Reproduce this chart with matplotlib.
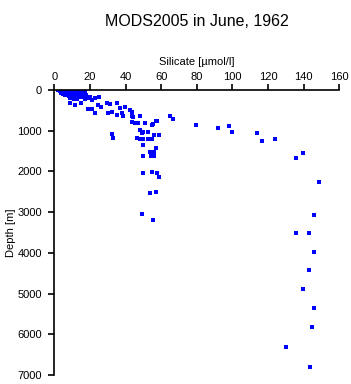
import matplotlib
matplotlib.use("Agg")
import matplotlib.pyplot as plt

plt.rcParams['font.family'] = ['Liberation Sans', 'DejaVu Sans']

# Silicate [umol/l] and depth [m]
silicate = [
    # dense near-surface cluster
    2, 3, 4, 5, 6, 7, 8, 9, 10, 11, 12, 13, 14, 15, 16, 17,
    3, 4, 5, 6, 7, 8, 9, 10, 11, 12, 13, 14, 15, 16,
    4, 6, 8, 10, 12, 14, 16, 18, 5, 7, 9, 11, 13, 15, 17, 19,
    6, 8, 10, 12, 14, 16, 18, 20, 9, 11, 13, 17, 21,
    # band
    8.8, 11.6, 15, 20, 22.9, 25.3, 19, 21, 22.8, 24.7, 26.2, 29.4, 31.3, 35,
    30.3, 32.2, 35, 36.9, 39.7, 42.5, 43.5, 37.8, 38.7, 43.5, 44.4, 48.1,
    43.5, 45.3, 47.2, 50.9, 55.2, 57.5, 65, 66.8, 57.3, 55,
    48.1, 50, 52.8, 49, 46.3, 48.1, 50, 52.8, 54.7, 56.2, 59, 50, 57.1,
    32.2, 33.1, 53.7, 56.2, 50, 54.1, 56.2, 50, 55, 57.5, 59, 53.7, 57.1,
    49, 55.2,
    # deep, high silicate
    79.7, 92.1, 97.9, 100, 114, 116.8, 124, 139.8, 135.9, 148.8,
    146, 135.9, 143, 146, 143, 139.8, 146, 144.9, 130, 143.7,
]
depth = [
    0, 5, 10, 10, 15, 20, 20, 25, 25, 30, 30, 35, 40, 40, 45, 50,
    30, 35, 40, 45, 50, 55, 60, 60, 65, 70, 70, 75, 80, 85,
    70, 80, 90, 95, 100, 100, 110, 120, 100, 110, 120, 130, 135, 140, 150, 160,
    130, 140, 150, 160, 170, 180, 190, 200, 200, 210, 220, 230, 240,
    311, 369, 327, 180, 204, 180, 475, 475, 573, 369, 410, 327, 344, 327,
    573, 533, 614, 450, 410, 491, 533, 573, 639, 639, 655, 639,
    778, 819, 819, 819, 844, 754, 631, 720, 754, 851,
    983, 1024, 1024, 1065, 1187, 1212, 1212, 1212, 1212, 1106, 1106, 1351, 1417,
    1081, 1187, 1516, 1531, 1622, 1622, 1622, 2047, 2022, 2047, 2130, 2538, 2514,
    3054, 3194,
    851, 942, 893, 1040, 1057, 1245, 1212, 1548, 1679, 2253,
    3063, 3521, 3521, 3972, 4430, 4889, 5364, 5831, 6323, 6814,
]

xticks = [0, 20, 40, 60, 80, 100, 120, 140, 160]
yticks = [0, 1000, 2000, 3000, 4000, 5000, 6000, 7000]

fig = plt.figure(figsize=(3.51, 3.84), dpi=100)
ax = fig.add_axes([0.1547, 0.0234, 0.812, 0.742])

ax.plot(silicate, depth, 's', color='#0000ff', markersize=2.6, markeredgewidth=0)

ax.set_xlim(0, 160)
ax.set_ylim(7000, 0)
ax.set_xticks(xticks)
ax.set_yticks(yticks)
ax.xaxis.tick_top()
ax.xaxis.set_label_position('top')
ax.spines['right'].set_visible(False)
ax.spines['bottom'].set_visible(False)
for s in ('top', 'left'):
    ax.spines[s].set_linewidth(1.2)
ax.tick_params(axis='both', direction='out', length=4, width=1.2, labelsize=8)
ax.tick_params(axis='x', pad=2)
ax.tick_params(axis='y', pad=5)
ax.set_xlabel('Silicate [\u00b5mol/l]', fontsize=8, labelpad=5)
ax.set_ylabel('Depth [m]', fontsize=8, labelpad=1)
fig.text(0.56, 0.943, 'MODS2005 in June, 1962', ha='center', va='center', fontsize=11.5)

fig.savefig('out.png', dpi=100)
